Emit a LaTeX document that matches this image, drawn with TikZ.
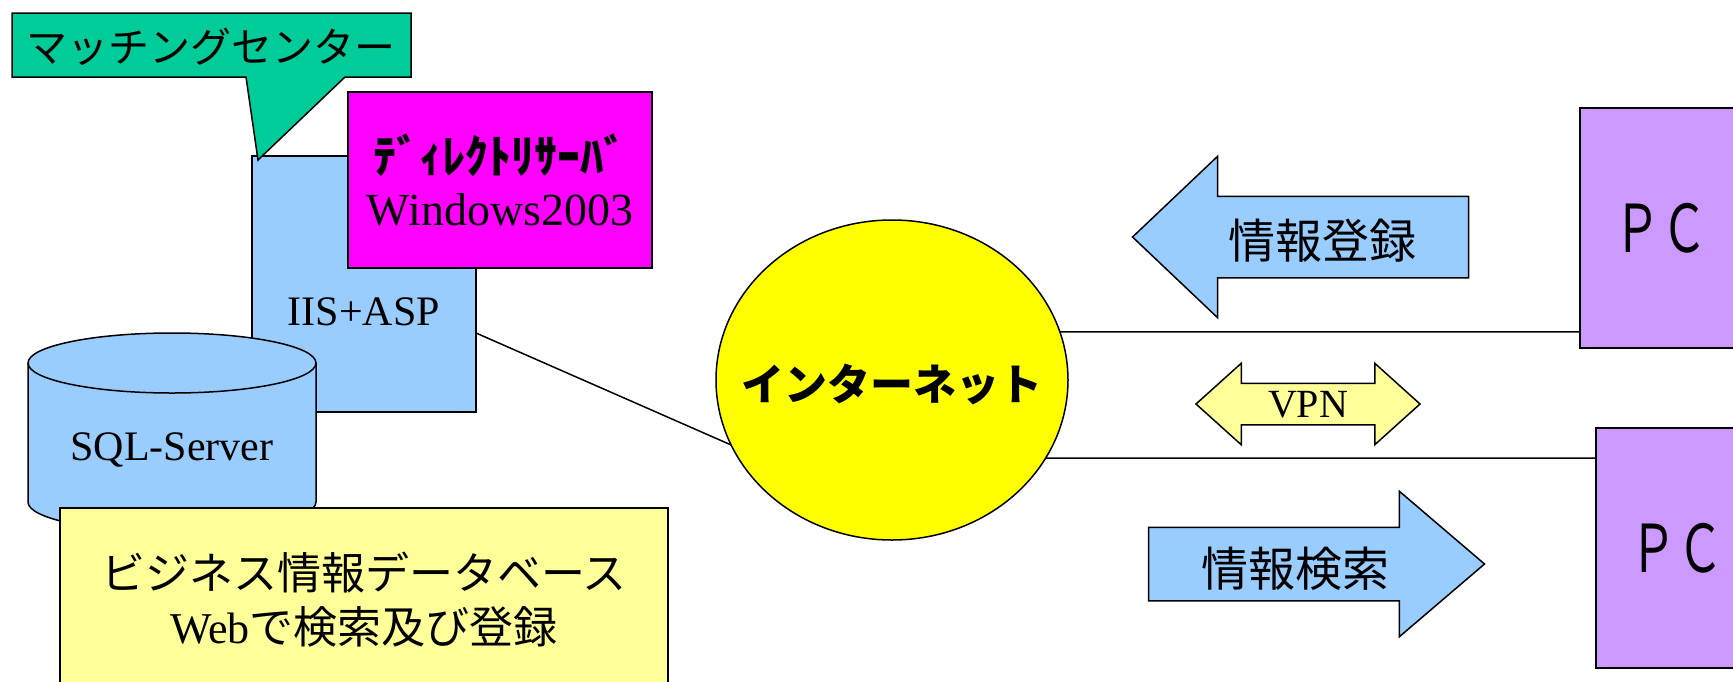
\documentclass[tikz,border=0pt]{standalone}
\usepackage{fontspec,graphicx}
\setmainfont{Liberation Serif}
\newfontfamily\jp{Noto Sans CJK JP}
\usetikzlibrary{positioning, shapes.geometric, shapes.arrows}
\definecolor{callgreen}{RGB}{0,204,153}
\definecolor{skyblue}{RGB}{153,204,255}
\definecolor{dirpink}{RGB}{255,0,255}
\definecolor{netyellow}{RGB}{255,255,0}
\definecolor{paleyellow}{RGB}{255,255,153}
\definecolor{pcviolet}{RGB}{204,153,255}
\tikzset{
x=1pt, y=-1pt, % one unit is one pixel, y grows downwards
every node/.style={inner sep=0pt, outer sep=0pt},
jfont/.style={font=\jp\fontsize{#1}{#1}\selectfont}, % gothic text
rfont/.style={font=\fontsize{#1}{#1}\selectfont}, % serif text
server/.style={draw, fill=skyblue}, % blue server parts
pc/.style={draw, fill=pcviolet, minimum width=162pt, minimum height=240pt, jfont=66},
flow/.style={draw, fill=skyblue, single arrow, minimum height=336pt, inner xsep=0pt, jfont=47},
}

\begin{document}
\begin{tikzpicture}[line width=1.5pt]
    \useasboundingbox (0,0) rectangle (1733,681);

    \node[server, minimum width=224pt, minimum height=256pt] (iis) at (364,284) {};
    \node[rfont=42] (iislabel) at (364,312) {IIS+ASP};
    \node[draw, fill=dirpink, minimum width=304pt, minimum height=176pt, align=center,
          font=\fontsize{46}{52}\selectfont] (dir) at (500,180) {{\jp\bfseries ﾃﾞｨﾚｸﾄﾘｻｰﾊﾞ}\\Windows2003};

    \draw[fill=callgreen] (12,13) -- (411,13) -- (411,77) -- (345,77) -- (258,160) -- (246,77) -- (12,77) -- cycle;
    \node[jfont=41] (match) at (211,47) {マッチングセンター};

    \draw[server] (28,363) -- (28,502) arc[start angle=180, end angle=360, x radius=144pt, y radius=30pt]
          -- (316,363) arc[start angle=0, end angle=180, x radius=144pt, y radius=30pt] -- cycle;
    \draw (28,363) arc[start angle=180, end angle=360, x radius=144pt, y radius=30pt];
    \node[rfont=42] (sql) at (172,450) {SQL-Server};
    \node[draw, fill=paleyellow, minimum width=608pt, minimum height=184pt, align=center,
          font=\fontsize{44}{54}\selectfont] (bizdb) at (364,600) {{\jp ビジネス情報データベース}\\Web{\jp で検索及び登録}};

    \node[draw, fill=netyellow, ellipse, minimum width=352pt, minimum height=320pt] (net) at (892,380) {};
    \node[font=\jp\bfseries\fontsize{43}{43}\selectfont] (netlabel) at (892,384) {インターネット};

    \node[pc] (pc1) at (1661,228) {\scalebox{0.7}[1]{ＰＣ}};
    \node[pc] (pc2) at (1677,548) {\scalebox{0.7}[1]{ＰＣ}};

    \draw ([yshift=-49pt]iis.east) -- (net.202)
          (net.16) -- (net.16 -| pc1.west)
          (net.-27.7) -- (net.-27.7 -| pc2.west);

    \node[flow, shape border rotate=180, single arrow head extend=40pt, single arrow tip angle=87,
          text height=43pt, text depth=1pt, inner ysep=18pt] (register) at (1322,237) {情報登録};
    \node[draw, fill=paleyellow, double arrow, minimum height=224pt, double arrow head extend=20pt,
          double arrow tip angle=84, rfont=40, text height=27pt, text depth=0pt, inner ysep=6.5pt] (vpn) at (1308,404) {VPN};
    \node[flow, single arrow head extend=36pt, single arrow tip angle=81,
          text height=44pt, text depth=0pt, inner ysep=14pt] (search) at (1295,564) {情報検索};
\end{tikzpicture}
\end{document}
